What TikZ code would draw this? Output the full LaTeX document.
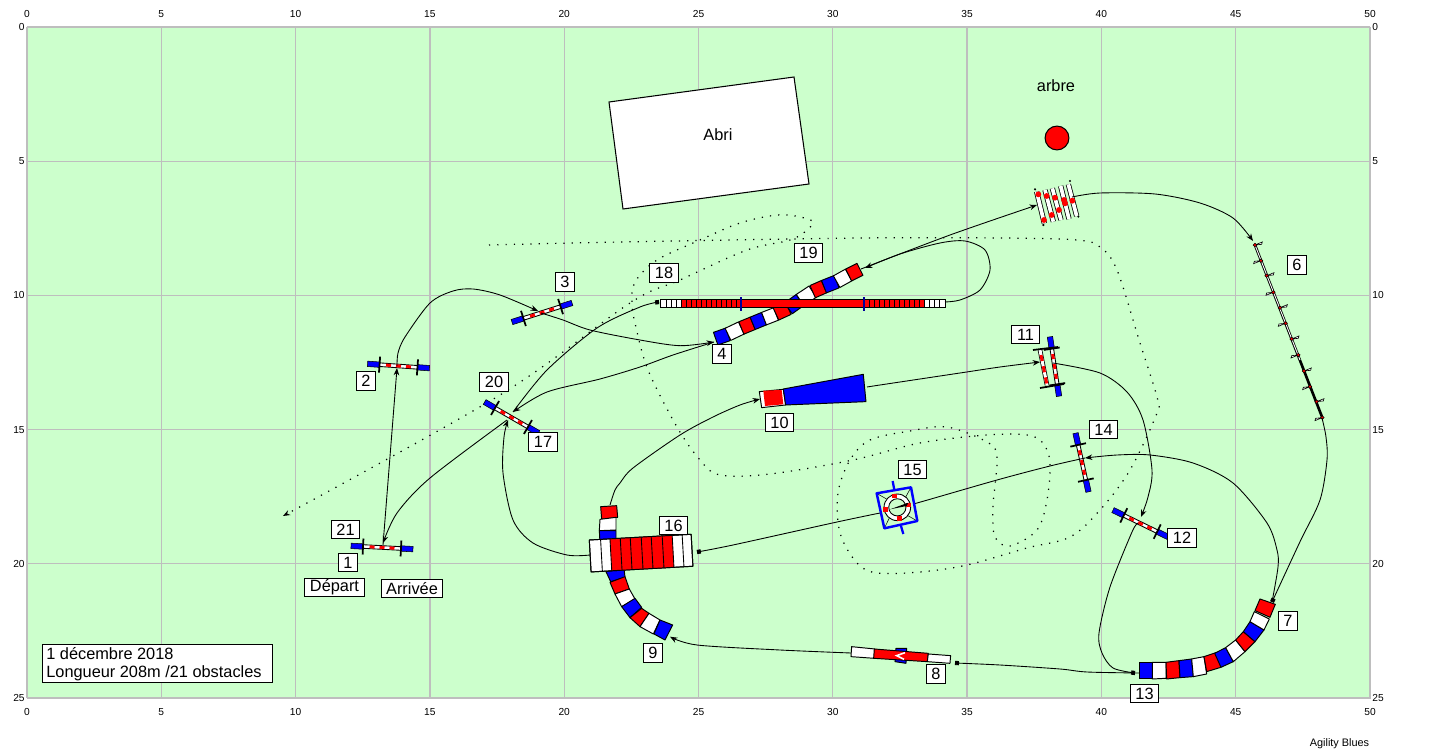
\documentclass[tikz,border=0pt]{standalone}
\usepackage{fontspec}
\setmainfont{Liberation Sans}
\usetikzlibrary{calc,arrows.meta}

\definecolor{gazon}{HTML}{CCFFCC}
\definecolor{quadrillage}{HTML}{BEBEBE}

\tikzset{
    etiq/.style={draw,fill=white,line width=.6pt,inner sep=0pt,minimum width=10.6pt,minimum height=10.6pt,font=\fontsize{9.3}{11}\selectfont},
    etiqlarge/.style={etiq,minimum width=16.2pt},
    axe/.style={inner sep=0pt,font=\fontsize{5.8}{7}\selectfont},
    grille/.style={quadrillage,line width=.7pt},
    troncon/.style={draw=black,line width=.55pt,line join=round},
    parcours/.style={line width=.5pt,-{Stealth[length=4.2pt,width=3.2pt]}},
    parcourscarre/.style={line width=.5pt,-{Square[length=2.2pt,width=2.4pt]}},
    pointille/.style={line width=.7pt,dash pattern=on .7pt off 4pt}
}

% haie : centre, angle, demi-longueur
\newcommand{\haie}[3]{
    \begin{scope}[shift={#1},rotate=#2]
        \draw[line width=.5pt,fill=white] (-#3+11,-1.8) rectangle (#3-11,1.8);
        \foreach \d in {-10,0,10}
            \fill[red] (\d-2.5,-1.5) rectangle (\d+2.5,1.5);
        \draw[line width=.3pt,fill=blue] (-#3,-2.7) rectangle (-#3+12,2.7);
        \draw[line width=.3pt,fill=blue] (#3-12,-2.7) rectangle (#3,2.7);
        \draw[line width=1pt] (-#3+12,-8) -- (-#3+12,8);
        \draw[line width=1pt] (#3-12,-8) -- (#3-12,8);
    \end{scope}
}

\begin{document}
\begin{tikzpicture}[x=.02cm,y=-.02cm]
    \useasboundingbox (0,0) rectangle (1444,750);
    \fill[white] (0,0) rectangle (1444,750);
    \fill[gazon] (27,27) rectangle (1370,698);

    % quadrillage
    \foreach \i [evaluate=\i as \x using 27+134.3*\i, evaluate=\i as \v using int(5*\i)] in {0,...,10} {
        \draw[grille] (\x,27) -- (\x,698);
        \node[axe] (ht\i) at (\x,14) {\v};
        \node[axe] (bs\i) at (\x,712) {\v};
    }
    \foreach \i [evaluate=\i as \y using 27+134.2*\i, evaluate=\i as \v using int(5*\i)] in {0,...,5} {
        \draw[grille] (27,\y) -- (1370,\y);
        \node[axe,anchor=east] (gc\i) at (25,\y) {\v};
        \node[axe,anchor=west] (dr\i) at (1372,\y) {\v};
    }
    \draw[quadrillage,line width=1.1pt] (1370,27) -- (1370,698) -- (27,698);

    % abri et arbre
    \draw[line width=.6pt,fill=white] (609,102) -- (794,77) -- (809,184) -- (623,209) -- cycle;
    \node[font=\fontsize{9.3}{11}\selectfont] (abri) at (718,135) {Abri};
    \node[font=\fontsize{9.3}{11}\selectfont] (arbre) at (1056,86) {arbre};
    \draw[line width=.6pt,fill=red] (1057,138) circle (6.8pt);

    % reconnaissance
    \draw[pointille,-{Stealth[length=4pt,width=3pt]}] plot[smooth,tension=.55] coordinates {
        (489,245) (620,242) (860,238) (1000,238) (1077,240) (1100,247) (1117,270) (1140,343)
        (1157,397) (1157,413) (1130,470) (1100,510) (1070,537) (1027,548) (967,565) (920,572)
        (877,573) (857,563) (840,533) (838,493) (850,460) (870,440) (910,431) (947,427) (987,442)
        (997,457) (993,507) (995,537) (1010,546) (1037,530) (1047,500) (1050,463) (1043,443)
        (1027,435) (987,435) (920,443) (853,460) (770,474) (720,475) (700,460) (677,427) (648,370)
        (635,323) (632,303) (635,282) (657,260) (700,240) (740,223) (777,215) (800,217) (813,223)
        (793,239) (747,250) (680,280) (630,303) (500,395) (283,516)};

    % haies
    \haie{(382,547.5)}{-3}{31}
    \haie{(398.5,366)}{-4}{31}
    \haie{(542,312.5)}{17.6}{31.5}
    \haie{(511.5,417.5)}{-30}{31}
    \haie{(1082,462.5)}{-77.6}{30}
    \haie{(1140.5,523.5)}{-26}{30.6}
    \haie{(1054.5,366.5)}{-81.3}{30}
    \draw[line width=2.6pt] (1040,350) -- (1047,385);
    \draw[line width=1.7pt,white] (1040,350) -- (1047,385);
    \draw[line width=1.7pt,red,dash pattern=on 3.5pt off 3pt] (1041,355) -- (1047,385);
    \draw[line width=1pt] (1033,350) -- (1058,347);
    \draw[line width=1pt] (1040,388) -- (1064,384);

    % saut en longueur
    \begin{scope}[shift={(1020,170)},scale=.3333]
        \foreach \ax/\ay/\bx/\by in {50/65/73/160,75/60/100/155,97/55/123/150,122/48/147/147,145/43/170/138} {
            \draw[line width=3pt] (\ax,\ay) -- (\bx,\by);
            \draw[line width=2.1pt,white] (\ax,\ay) -- (\bx,\by);
        }
        \foreach \px/\py in {55/73,80/78,105/83,132/90,157/92,72/150,95/135,117/120,135/100}
            \fill[red] (\px,\py) circle (5pt);
        \foreach \px/\py in {45/58,150/33,175/140,70/165}
            \fill[black] (\px,\py) circle (2pt);
    \end{scope}

    % slalom
    \begin{scope}[shift={(1000,170)},scale=.3333]
        \draw[line width=1.5pt] (765,225) -- (967,743);
        \draw[line width=.5pt,white] (765,225) -- (900,570);
        \foreach \px/\py/\s in {765/225/1,783/272/-1,800/317/1,820/367/-1,840/413/1,857/460/-1,875/507/1,895/555/-1,912/603/1,930/650/-1,950/695/1,967/743/-1} {
            \draw[line width=.35pt,fill=white] (\px,\py) -- (\px+22*\s,\py-9*\s) -- (\px+20*\s,\py-2*\s) -- cycle;
            \draw[line width=.3pt,fill=red] (\px,\py) circle (3pt);
        }
    \end{scope}

    % tunnel 7-13
    \begin{scope}[shift={(1060,420)},scale=.3333]
        \foreach \ax/\ay/\bx/\by/\cx/\cy/\dx/\dy/\col in {
            238/727/277/727/277/777/238/777/blue,
            277/727/318/727/318/775/277/777/white,
            318/727/357/722/360/773/320/777/red,
            357/722/395/717/400/770/360/773/blue,
            395/717/432/710/440/762/400/770/white,
            432/710/468/698/483/742/440/755/red,
            464/700/497/683/520/725/483/742/blue,
            497/683/527/660/555/695/520/725/white,
            527/660/550/635/585/665/555/695/red,
            550/635/570/605/612/630/585/665/blue,
            570/605/583/575/628/597/612/630/white,
            585/572/600/537/646/553/630/592/red}
            \draw[troncon,fill=\col] (\ax,\ay) -- (\bx,\by) -- (\cx,\cy) -- (\dx,\dy) -- cycle;
    \end{scope}

    % tunnel 9
    \begin{scope}[shift={(580,490)},scale=.3333]
        \foreach \ax/\ay/\bx/\by/\cx/\cy/\dx/\dy/\col in {
            62/50/110/47/113/82/65/88/red,
            60/88/108/82/108/120/58/122/white,
            58/122/108/122/108/160/60/160/blue,
            78/245/132/235/135/262/92/275/blue,
            90/277/135/260/148/297/105/312/red,
            105/312/148/297/165/327/125/350/white,
            125/350/165/325/185/352/150/383/blue,
            150/383/185/355/207/370/180/410/red,
            180/410/207/370/240/390/220/432/white,
            222/432/240/390/278/405/255/450/blue}
            \draw[troncon,fill=\col] (\ax,\ay) -- (\bx,\by) -- (\cx,\cy) -- (\dx,\dy) -- cycle;
    \end{scope}

    % table 16
    \begin{scope}[shift={(589.3,540)},rotate=3.2]
        \draw[troncon,fill=white] (0,0) rectangle (102,32);
        \fill[red] (20.7,0) rectangle (83,32);
        \foreach \x in {11.3,20.7,31,41,52,62,73,83,93}
            \draw[line width=.5pt] (\x,0) -- (\x,32);
        \draw[troncon] (0,0) rectangle (102,32);
    \end{scope}

    % tunnel 4-19
    \begin{scope}[shift={(640,240)},scale=.3333]
        \foreach \ax/\ay/\bx/\by/\col in {
            227/296/264/283/blue,264/283/304/264/white,304/264/338/250/red,
            338/250/372/236/blue,372/236/408/222/white,408/222/445/205/red,
            445/205/480/180/blue,480/180/518/155/white,518/155/552/140/red,
            552/140/590/125/blue,590/125/626/105/white,626/105/660/88/red}
            \draw[troncon,fill=\col] ($(\ax,\ay)!11.4pt!90:(\bx,\by)$) -- ($(\bx,\by)!11.4pt!-90:(\ax,\ay)$)
                -- ($(\bx,\by)!11.4pt!90:(\ax,\ay)$) -- ($(\ax,\ay)!11.4pt!-90:(\bx,\by)$) -- cycle;
    \end{scope}

    % passerelle
    \draw[troncon,fill=white] (660.7,299.3) rectangle (945.7,307.3);
    \fill[red] (680.7,299.3) rectangle (924,307.3);
    \foreach \x in {666,671,676,681,686,691,696,701,706,711,716,721,726,731,736,869,874,879,884,889,894,899,904,909,914,919,924,929,934,939}
        \draw[line width=.4pt] (\x,299.3) -- (\x,307.3);
    \draw[troncon] (660.7,299.3) rectangle (945.7,307.3);
    \foreach \x in {741,864.3}
        \draw[line width=1.3pt,blue!60!black] (\x,297) -- (\x,311);

    % tunnel 10
    \begin{scope}[shift={(640,240)},scale=.3333]
        \draw[troncon,fill=white] (358,455) -- (430,448) -- (437,495) -- (365,503) -- cycle;
        \fill[red] (370,452) -- (425,450) -- (430,493) -- (375,498) -- cycle;
        \draw[troncon,fill=blue] (430,447) -- (670,403) -- (678,485) -- (437,495) -- cycle;
    \end{scope}

    % balancoire
    \begin{scope}[shift={(580,490)},scale=.3333]
        \draw[troncon,fill=blue] (948,475) -- (980,475) -- (978,520) -- (945,515) -- cycle;
        \draw[troncon,fill=white] (815,470) -- (885,477) -- (883,505) -- (813,500) -- cycle;
        \draw[troncon,fill=red] (883,477) -- (1045,490) -- (1042,515) -- (881,505) -- cycle;
        \draw[troncon,fill=white] (1045,492) -- (1112,497) -- (1110,520) -- (1042,515) -- cycle;
        \draw[white,line width=.9pt] (975,488) -- (950,497) -- (972,508);
    \end{scope}

    % parcours
    \coordinate (h21) at (383,545);
    \coordinate (h2) at (397,366);
    \coordinate (h3) at (541,313);
    \coordinate (t4) at (714,342);
    \coordinate (t19) at (861,269);
    \coordinate (sl5) at (1037,205);
    \coordinate (sl6) at (1322,418);
    \coordinate (t7) at (1272,602);
    \coordinate (t13) at (1139,673);
    \coordinate (h14) at (1085,458);
    \coordinate (h17) at (513,412);
    \coordinate (p18) at (659,302);
    \coordinate (b8) at (955,663);

    \draw[parcours] (h21) -- (397,368);
    \draw[parcours] plot[smooth] coordinates {(h2) (398,353) (405,337) (430,303) (453,291) (473,289) (500,295) (538,311)};
    \draw[parcours] plot[smooth] coordinates {(h3) (563,320) (590,330) (640,340) (680,345.7) (t4)};
    \draw[parcours] plot[smooth] coordinates {(t19) (950,235) (sl5)};
    \draw[parcours] plot[smooth] coordinates {(1072,197) (1100,193) (1155,194) (1200,203) (1233,218) (1253,241)};
    \draw[parcourscarre] plot[smooth] coordinates {(sl6) (1326,437) (1327,460) (1320,500) (1300,541.7) (t7)};
    \draw[parcourscarre] plot[smooth] coordinates {(t13) (1087,672) (1060,669) (1000,665) (b8)};
    \draw[parcours] plot[smooth] coordinates {(851,653) (780,650) (697,645) (670,636.7)};
    \draw[parcours] plot[smooth] coordinates {(610,505) (615,490) (620,483) (633,468) (680,435) (713,417) (740,405) (760,399)};
    \draw[parcours] plot[smooth] coordinates {(867,387) (880,385) (960,373) (1000,367) (1040,362)};
    \draw[parcours] plot[smooth] coordinates {(1053,363) (1100,373) (1127,392) (1143,420) (1152,470) (1148,497) (1141,517)};
    \draw[parcourscarre] plot[smooth] coordinates {(1138,523) (1132,532) (1110,587) (1099,633) (1102,653) (1113,668) (1135,673)};
    \draw[parcours] plot[smooth] coordinates {(t7) (1278,567) (1277,550) (1267,523) (1233,483) (1193,463) (1150,455) (1117,455) (h14)};
    \draw[line width=.5pt] plot[smooth] coordinates {(h14) (1050,466) (997,480) (917,503) (900,507)};
    \draw[parcourscarre] plot[smooth] coordinates {(880,513) (837,522) (733,545) (697,552)};
    \draw[parcours] plot[smooth] coordinates {(590,555) (567,555) (533,543) (513,520) (503,473) (504,437) (508,420)};
    \draw[parcourscarre] plot[smooth] coordinates {(h17) (547,370) (597,328) (640,307) (p18)};
    \draw[parcours] plot[smooth] coordinates {(945,302) (960,300) (980,290) (990,270) (985,250) (965,241) (940,243) (900,254) (865,268)};
    \draw[parcours] plot[smooth] coordinates {(t4) (673,355) (640,367) (600,379) (547,392) (h17)};
    \draw[parcours] plot[smooth] coordinates {(507,420) (430,478) (397,513) (383,543)};

    % pneu
    \begin{scope}[shift={(840,450)},scale=.3333]
        \draw[blue,line width=1.3pt] (158,93) -- (163,120);
        \draw[blue,line width=1.3pt] (183,228) -- (190,252);
        \fill[gazon] (110,130) -- (213,112) -- (232,213) -- (133,235) -- cycle;
        \foreach \ax/\ay/\bx/\by in {110/130/145/150,213/112/195/145,232/213/200/195,133/235/150/200}
            \draw[line width=.3pt] (\ax,\ay) -- (\bx,\by);
        \draw[line width=.5pt,fill=white] (172,172) circle (22.7pt);
        \draw[line width=.5pt,fill=gazon] (172,172) circle (14.7pt);
        \foreach \px/\py in {163/138,205/165,178/205,137/178}
            \fill[red] (\px-8,\py-7) rectangle (\px+8,\py+7);
        \fill[black] (150,178) -- (205,158) -- (200,168) -- cycle;
        \draw[blue,line width=1.4pt,line join=round] (110,130) -- (213,112) -- (232,213) -- (133,235) -- cycle;
    \end{scope}

    % numeros
    \node[etiq] (n1) at (348,562.5) {1};
    \node[etiqlarge] (n21) at (345.5,529.5) {21};
    \node[etiq] (n2) at (366,381) {2};
    \node[etiq] (n3) at (565,282) {3};
    \node[etiq] (n4) at (722,354) {4};
    \node[etiq] (n6) at (1297,265) {6};
    \node[etiq] (n7) at (1288,621) {7};
    \node[etiq] (n8) at (936,674) {8};
    \node[etiq] (n9) at (653,653) {9};
    \node[etiqlarge] (n10) at (779.5,422.5) {10};
    \node[etiqlarge] (n11) at (1025.5,334.5) {11};
    \node[etiqlarge] (n12) at (1182,538) {12};
    \node[etiqlarge] (n13) at (1144.5,693.5) {13};
    \node[etiqlarge] (n14) at (1103.5,429.5) {14};
    \node[etiqlarge] (n15) at (912.5,469.5) {15};
    \node[etiqlarge] (n16) at (673.5,525.5) {16};
    \node[etiqlarge] (n17) at (543,442) {17};
    \node[etiqlarge] (n18) at (664,273) {18};
    \node[etiqlarge] (n19) at (808.5,253) {19};
    \node[etiqlarge] (n20) at (494,382) {20};
    \node[etiq,minimum width=34pt] (depart) at (334.5,587.5) {Départ};
    \node[etiq,minimum width=35pt] (arrivee) at (412,588.5) {Arrivée};

    % legende
    \node[draw,fill=white,line width=.6pt,anchor=north west,inner sep=0pt,minimum width=131pt,minimum height=21.6pt] (cadre) at (41.7,644.3) {};
    \node[anchor=west,inner sep=0pt,font=\fontsize{9.3}{11}\selectfont] (date) at (46,653.5) {1 décembre 2018};
    \node[anchor=west,inner sep=0pt,font=\fontsize{9.3}{11}\selectfont] (longueur) at (46,673) {Longueur 208m /21 obstacles};
    \node[inner sep=0pt,font=\fontsize{6.2}{7}\selectfont] (logiciel) at (1339.5,744) {Agility Blues};
\end{tikzpicture}
\end{document}
